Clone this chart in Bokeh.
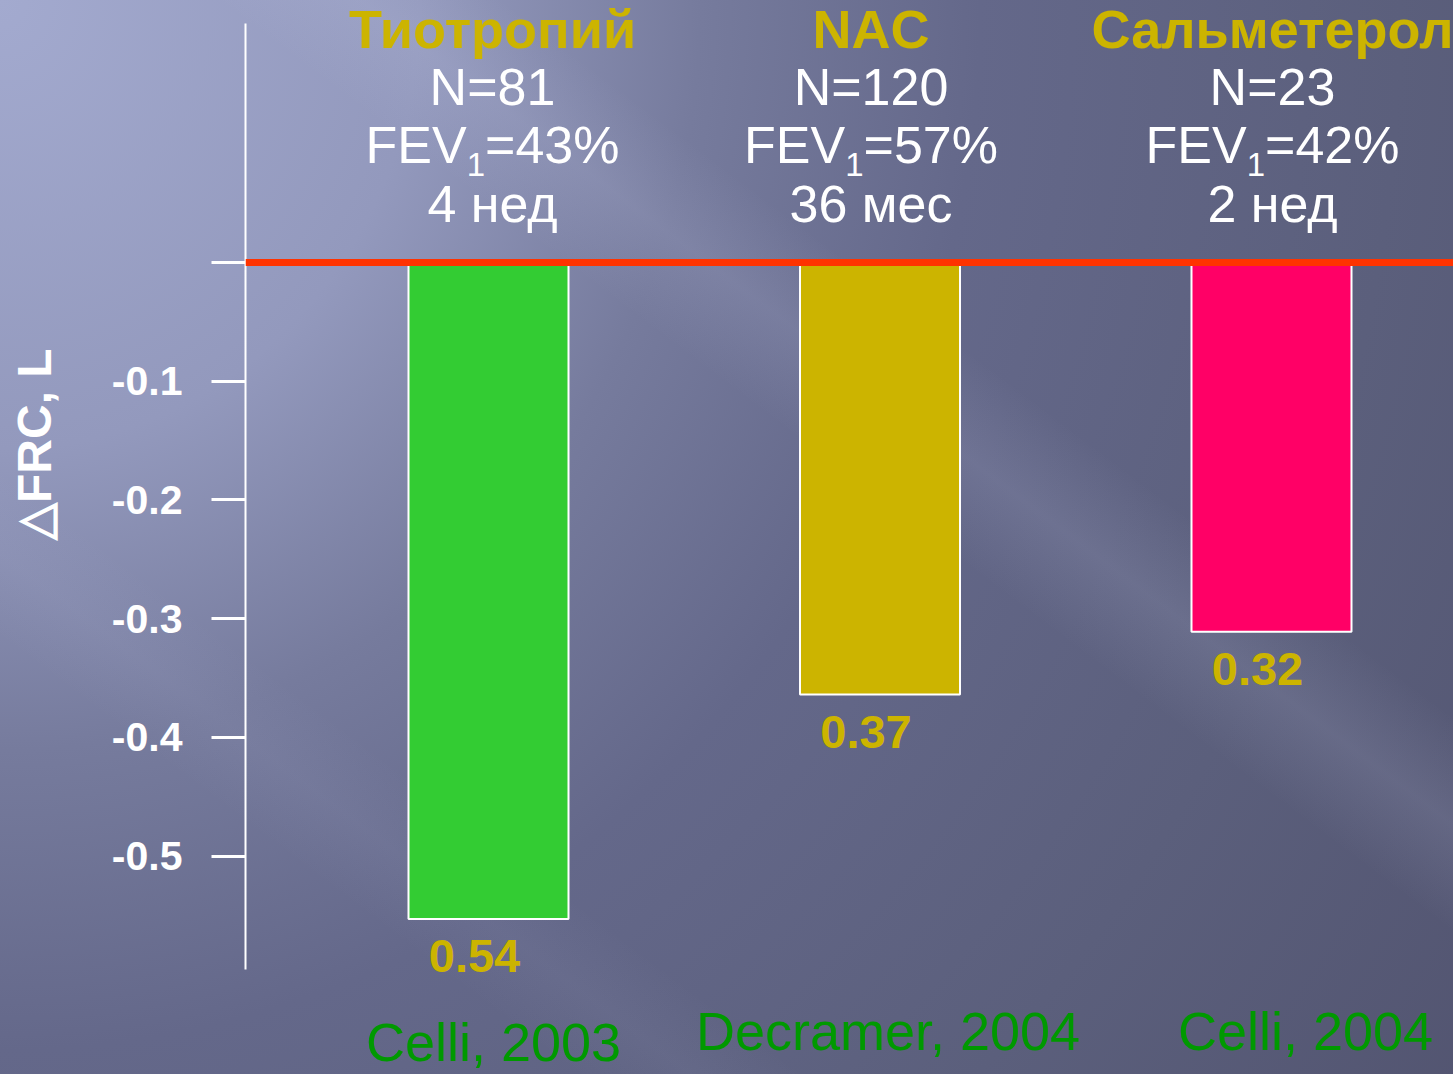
from bokeh.plotting import figure
from bokeh.models import Range1d, FixedTicker, Span
from bokeh.core.properties import value
from bokeh.embed import file_html
from bokeh.resources import INLINE

# ---------------- data ----------------
drugs = ["Тиотропий", "NAC", "Сальметерол"]
n_text = ["N=81", "N=120", "N=23"]
fev_label = "FEV"
fev_sub = "1"
fev_values = ["=43%", "=57%", "=42%"]
duration = ["4 нед", "36 мес", "2 нед"]
delta_frc = [-0.553, -0.364, -0.311]          # bar ends
value_labels = ["0.54", "0.37", "0.32"]
studies = ["Celli, 2003", "Decramer, 2004", "Celli, 2004"]
bar_colors = ["#33cc33", "#ccb400", "#ff0066"]
y_ticks = [0, -0.1, -0.2, -0.3, -0.4, -0.5]
y_tick_labels = ["", "-0.1", "-0.2", "-0.3", "-0.4", "-0.5"]
y_title = "△FRC, L"
positions = [1, 2, 3]

# ---------------- layout helpers ----------------
W, H = 1453, 1074
LEFT = 245                 # frame left (px)
PX_X = 391.5               # px per category step
FIRST_C = 488              # x of first bar centre
PX_Y = 1187.0              # px per 1 L
ZERO_Y = 262               # y of zero line
BASE_FIX = 0.4             # renderer draws text baselines this many em lower


def xd(px):
    return 1 + (px - FIRST_C) / PX_X


def yd(py):
    return -(py - ZERO_Y) / PX_Y


def ybase(py, size):
    """data y for a text whose baseline should sit at pixel row py"""
    return yd(py - BASE_FIX * size)


FONT = value("Liberation Sans")
GOLD = "#ccb400"

p = figure(width=W, height=H, output_backend="svg", toolbar_location=None,
           x_range=Range1d(xd(LEFT), xd(W)), y_range=Range1d(yd(H), yd(0)),
           x_axis_location=None, y_axis_location="left",
           min_border_left=LEFT, min_border_right=0, min_border_top=0, min_border_bottom=0,
           background_fill_alpha=0, border_fill_alpha=0, outline_line_color=None)
p.grid.visible = False

p.styles = {
    "background-color": "#62668a",
    "background-image": (
        "linear-gradient(37deg, rgba(255,255,255,0) 57%, rgba(205,210,240,0.12) 62%, rgba(255,255,255,0) 67%),"
        "linear-gradient(37deg, rgba(255,255,255,0) 20%, rgba(205,210,240,0.05) 24%, rgba(255,255,255,0) 28%),"
        "radial-gradient(ellipse 1400px 1500px at 0px 0px, #a3aacf 0%, #9399bd 30%, #767b9d 50%, "
        "#64688a 70%, #5b5f7c 100%, #525470 130%)"
    ),
}

# bars
p.vbar(x=positions, top=0, bottom=delta_frc, width=160 / PX_X,
       fill_color=bar_colors, line_color="white", line_width=2)

# zero line
p.add_layout(Span(location=0, dimension="width", line_color="#ff3300", line_width=7))

# value labels under bars
VS = 47
p.text(x=positions, y=[v + ybase(ZERO_Y + 56, VS) for v in delta_frc], x_offset=-14,
       text=value_labels, text_font=FONT, text_font_size=f"{VS}px", text_font_style="bold",
       text_color=GOLD, text_align="center", text_baseline="alphabetic")

# header block
hdr_dx = [4, -9, 1]
hx = [pos + dx / PX_X for pos, dx in zip(positions, hdr_dx)]
HS, F, FS = 54, 52, 33
p.text(x=hx, y=[ybase(50, HS)] * 3, text=drugs, text_font=FONT, text_font_size=f"{HS}px",
       text_font_style="bold", text_color=GOLD, text_align="center", text_baseline="alphabetic")
for lines, base in ((n_text, 107), (duration, 224)):
    p.text(x=hx, y=[ybase(base, F)] * 3, text=lines, text_font=FONT, text_font_size=f"{F}px",
           text_color="white", text_align="center", text_baseline="alphabetic")

# FEV1 line composed of three pieces (main text, subscript, value)
w_fev = 1.945 * F
w_sub = 0.556 * FS
w_val = 2.585 * F
start = -(w_fev + w_sub + w_val) / 2
p.text(x=hx, y=[ybase(165, F)] * 3, text=[fev_label] * 3, x_offset=start,
       text_font=FONT, text_font_size=f"{F}px", text_color="white",
       text_align="left", text_baseline="alphabetic")
p.text(x=hx, y=[ybase(177, FS)] * 3, text=[fev_sub] * 3, x_offset=start + w_fev,
       text_font=FONT, text_font_size=f"{FS}px", text_color="white",
       text_align="left", text_baseline="alphabetic")
p.text(x=hx, y=[ybase(165, F)] * 3, text=fev_values, x_offset=start + w_fev + w_sub,
       text_font=FONT, text_font_size=f"{F}px", text_color="white",
       text_align="left", text_baseline="alphabetic")

# study citations
CS = 54
cite_dx = [5, 8, 34]
cite_base = [1063, 1052, 1052]
p.text(x=[pos + dx / PX_X for pos, dx in zip(positions, cite_dx)],
       y=[ybase(b, CS) for b in cite_base], text=studies, text_font=FONT,
       text_font_size=f"{CS}px", text_color="#009900", text_align="center",
       text_baseline="alphabetic")

# y axis
ax = p.yaxis[0]
ax.ticker = FixedTicker(ticks=y_ticks)
ax.major_label_overrides = {t: lab for t, lab in zip(y_ticks, y_tick_labels)}
ax.bounds = (yd(969), yd(23))
ax.axis_line_color = "white"
ax.axis_line_width = 2
ax.major_tick_line_color = "white"
ax.major_tick_line_width = 3
ax.major_tick_out = 34
ax.major_tick_in = 0
ax.minor_tick_line_color = None
ax.major_label_text_font = "Liberation Sans"
ax.major_label_text_font_size = "41px"
ax.major_label_text_font_style = "bold"
ax.major_label_text_color = "white"
ax.major_label_standoff = 29
# leading no-break spaces lift the title's visible part above the frame centre
ax.axis_label = "\u00a0" * 14 + y_title
ax.axis_label_text_font = "Liberation Sans"
ax.axis_label_text_font_size = "48px"
ax.axis_label_text_font_style = "bold"
ax.axis_label_text_color = "white"
ax.axis_label_standoff = 48

open("out.html", "w").write(file_html(p, INLINE))
